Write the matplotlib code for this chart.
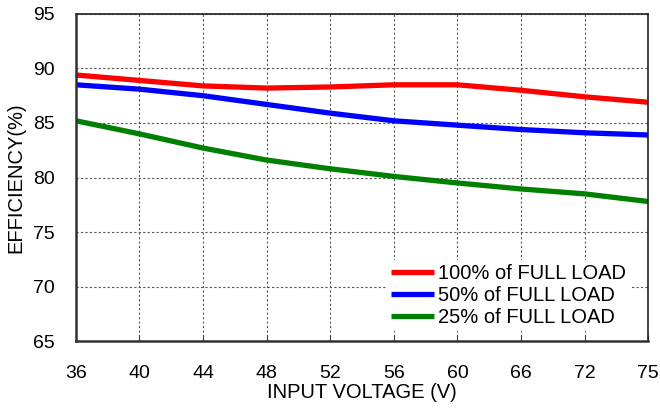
import matplotlib
matplotlib.use("Agg")
import matplotlib.pyplot as plt
import numpy as np

plt.rcParams['font.family'] = ['Liberation Sans', 'DejaVu Sans']

# input voltage categories (evenly spaced on the chart)
voltages = ["36", "40", "44", "48", "52", "56", "60", "66", "72", "75"]
eff_100 = [89.4, 88.9, 88.4, 88.2, 88.3, 88.5, 88.5, 88.0, 87.4, 86.9]
eff_50 = [88.5, 88.1, 87.5, 86.7, 85.9, 85.2, 84.8, 84.4, 84.1, 83.9]
eff_25 = [85.2, 84.0, 82.7, 81.6, 80.8, 80.1, 79.5, 78.95, 78.5, 77.8]

x = np.arange(len(voltages))

fig = plt.figure(figsize=(6.6, 4.09), dpi=100)
ax = fig.add_axes([0.115, 0.166, 0.867, 0.8])

ax.plot(x, eff_100, color="#ff0000", lw=3.8, label="100% of FULL LOAD", solid_capstyle="butt")
ax.plot(x, eff_50, color="#0000ff", lw=3.8, label="50% of FULL LOAD", solid_capstyle="butt")
ax.plot(x, eff_25, color="#008000", lw=3.8, label="25% of FULL LOAD", solid_capstyle="butt")

ax.set_xlim(0, len(voltages) - 1)
ax.set_ylim(65, 95)
ax.set_xticks(x)
ax.set_xticklabels(voltages)
ax.set_yticks(np.arange(65, 96, 5))
ax.tick_params(axis="y", labelsize=14, length=0, pad=15)
ax.tick_params(axis="x", labelsize=14, direction="in", length=4, pad=17, color="#444444")

ax.grid(True, linestyle=(0, (2, 2)), color="#555555", lw=0.8)
ax.set_axisbelow(True)

for s in ["left", "bottom"]:
    ax.spines[s].set_linewidth(1.8)
    ax.spines[s].set_color("#333333")
for s in ["top", "right"]:
    ax.spines[s].set_linewidth(1.2)
    ax.spines[s].set_color("#222222")

ax.set_xlabel("INPUT VOLTAGE (V)", fontsize=14.5, labelpad=1)
ax.set_ylabel("EFFICIENCY(%)", fontsize=14.5, labelpad=6)

leg = ax.legend(loc="lower right", bbox_to_anchor=(0.968, 0.03), fontsize=14.5,
                frameon=True, framealpha=1, edgecolor="white", handlelength=2.1,
                handletextpad=0.2, labelspacing=0.15, borderaxespad=0, borderpad=0.2)
leg.get_frame().set_linewidth(0)

fig.savefig("out.png", dpi=100)
